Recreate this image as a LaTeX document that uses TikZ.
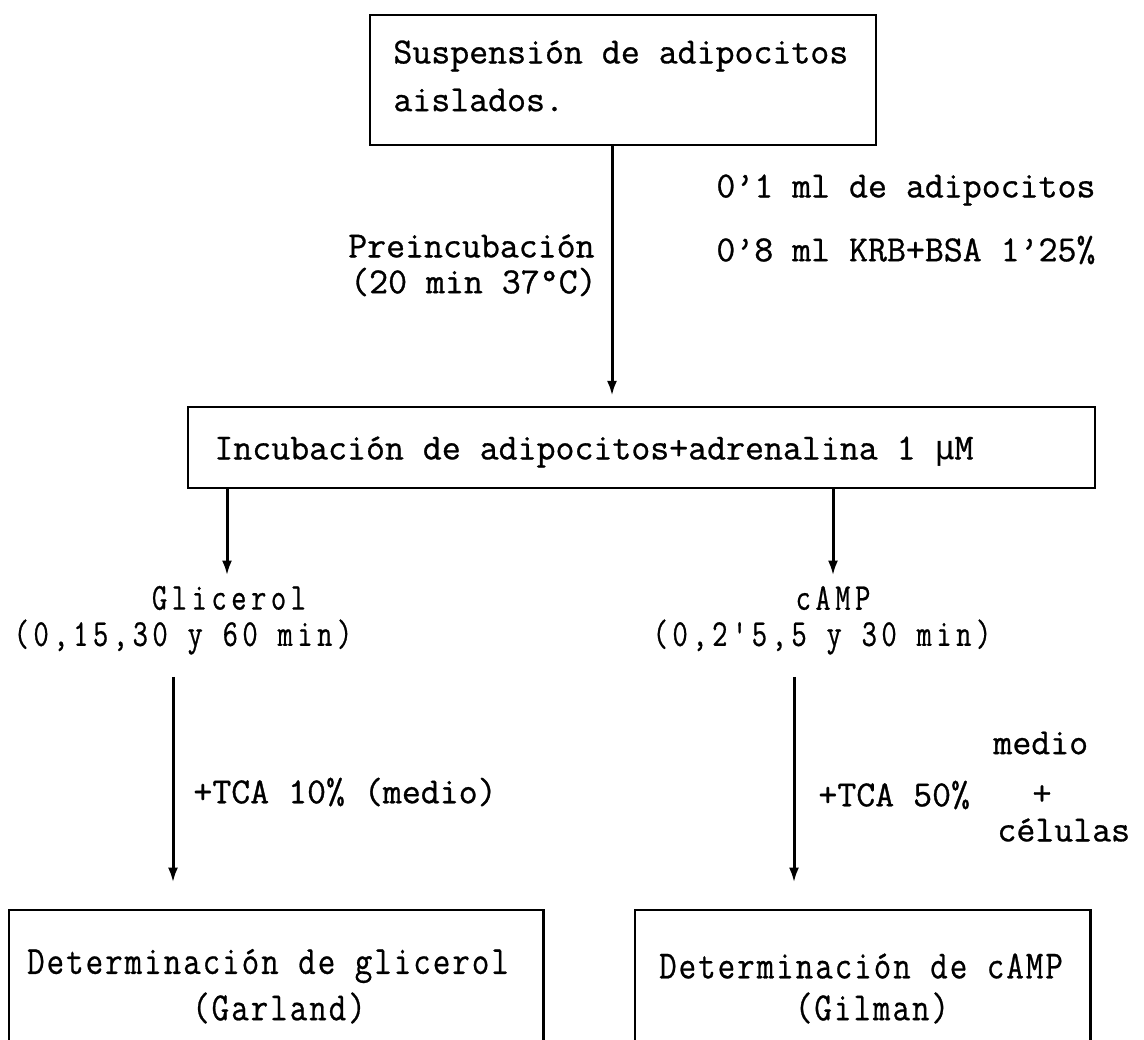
\documentclass[tikz,border=0pt]{standalone}
\usepackage{fontspec}
\setmainfont{Latin Modern Mono}[FakeBold=0.8]
\newfontfamily\narrowspaced[FakeStretch=0.78,LetterSpace=12,FakeBold=0.6]{Latin Modern Mono}
\newfontfamily\narrowtype[FakeStretch=0.85,LetterSpace=5,FakeBold=0.6]{Latin Modern Mono}
\newfontfamily\microfont[Scale=0.9]{DejaVu Sans Mono}
\usetikzlibrary{arrows.meta,fit}
\begin{document}
\begin{tikzpicture}[x=0.5pt,y=-0.5pt,
  every node/.style={font=\fontsize{18.4pt}{21pt}\selectfont, inner sep=0pt},
  rule/.style={line width=1.1pt},
  frame/.style={rule, draw},
  openframe/.style={inner sep=0pt},
  arr/.style={line width=1.5pt, -{Latex[length=7.5pt,width=5pt]}},
  lbl/.style={anchor=west},
  rlbl/.style={anchor=east},
  spaced/.style={font=\fontsize{19pt}{21pt}\narrowspaced},
  narrow/.style={font=\fontsize{20pt}{22pt}\narrowtype}]
\useasboundingbox (0,0) rectangle (1144,1039);

% corner points of the frames
\coordinate (t1) at (370,15);   \coordinate (t2) at (876,145);
\coordinate (m1) at (188,407);  \coordinate (m2) at (1095,488);
\coordinate (g1) at (9,910);    \coordinate (g2) at (543,1050);
\coordinate (c1) at (635,910);  \coordinate (c2) at (1090,1050);

% arrow columns
\coordinate (xa) at (612,0);
\coordinate (xg) at (227,0);
\coordinate (xc) at (833,0);
\coordinate (xg2) at (173,0);
\coordinate (xc2) at (794,0);

% frames
\node[frame, fit=(t1)(t2), inner sep=0pt] (top) {};
\node[frame, fit=(m1)(m2), inner sep=0pt] (mid) {};
\node[openframe, fit=(g1)(g2)] (gbox) {};
\node[openframe, fit=(c1)(c2)] (cbox) {};
\draw[rule] (gbox.south west) -- (gbox.north west) -- (gbox.north east) -- (gbox.south east);
\draw[rule] (cbox.south west) -- (cbox.north west) -- (cbox.north east) -- (cbox.south east);

% texts inside frames
\node[lbl] (s1) at (393,56) {Suspensión de adipocitos};
\node[lbl] (s2) at (393,100) {aislados.};
\node[lbl] (inc) at (214,452) {Incubación de adipocitos+adrenalina 1 {\microfont μ}M};
\node[narrow] (dg1) at (268,966) {Determinación de glicerol};
\node[narrow] (dg2) at (279,1008) {(Garland)};
\node[narrow] (dc1) at (861,966) {Determinación de cAMP};
\node[narrow] (dc2) at (872,1008) {(Gilman)};

% labels along the first arrow
\node[rlbl] (pre1) at (595,246) {Preincubación};
\node[rlbl] (pre2) at (597,282) {(20 min 37°C)};
\node[lbl] (vol1) at (716,190) {0'1 ml de adipocitos};
\node[lbl] (vol2) at (716,250) {0'8 ml KRB+BSA 1'25\%};

% sampled quantities
\node[spaced] (glic) at (229,598) {Glicerol};
\node[spaced] (gt) at (183,637) {(0,15,30 y 60 min)};
\node[spaced] (camp) at (833,598) {cAMP};
\node[spaced] (ct) at (822,637) {(0,2'5,5 y 30 min)};

% reagents
\node[lbl] (tca1) at (193,792) {+TCA 10\% (medio)};
\node[lbl] (tca2) at (818,795) {+TCA 50\%};
\node[lbl] (med) at (993,743) {medio};
\node (plus) at (1042,795) {+};
\node[lbl] (cel) at (997,830) {células};

% connectors
\draw[arr, shorten >=5pt] (top.south -| xa) -- (mid.north -| xa);
\draw[arr, shorten >=5pt] (mid.south -| xg) -- (glic.north -| xg);
\draw[arr, shorten >=5pt] (mid.south -| xc) -- (camp.north -| xc);
\draw[arr, shorten <=11pt, shorten >=13.5pt] (gt.south -| xg2) -- (gbox.north -| xg2);
\draw[arr, shorten <=11pt, shorten >=13.5pt] (ct.south -| xc2) -- (cbox.north -| xc2);
\end{tikzpicture}
\end{document}
